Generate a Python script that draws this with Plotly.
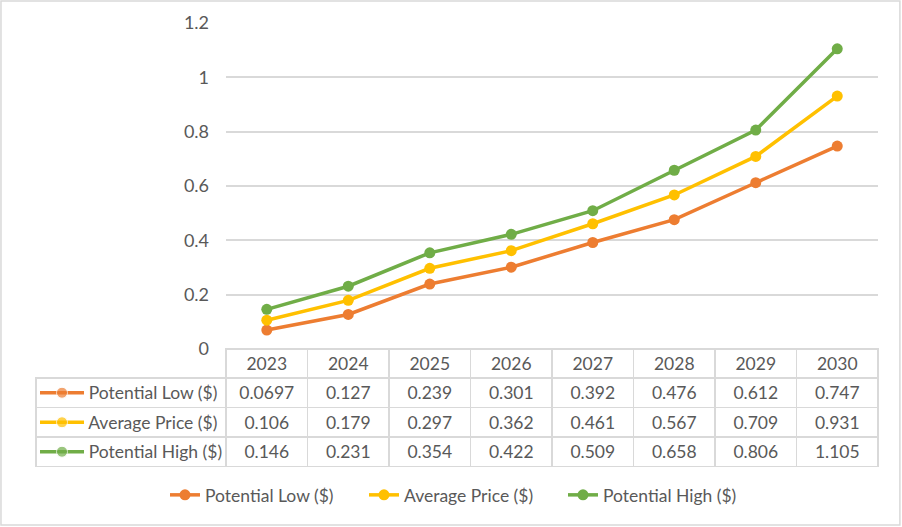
import plotly.graph_objects as go

years = ["2023", "2024", "2025", "2026", "2027", "2028", "2029", "2030"]
low = [0.0697, 0.127, 0.239, 0.301, 0.392, 0.476, 0.612, 0.747]
avg = [0.106, 0.179, 0.297, 0.362, 0.461, 0.567, 0.709, 0.931]
high = [0.146, 0.231, 0.354, 0.422, 0.509, 0.658, 0.806, 1.105]
names = ["Potential Low ($)", "Average Price ($)", "Potential High ($)"]
colors = ["#ED7D31", "#FFC000", "#70AD47"]
series = [low, avg, high]

FONT = "Lato"
TXT = "#595959"
GRID = "#D9D9D9"
NB = "\u00a0"

fig = go.Figure()
for name, col, vals in zip(names, colors, series):
    fig.add_trace(go.Scatter(
        x=years, y=vals, name=name, mode="lines+markers",
        line=dict(color=col, width=3.5), marker=dict(color=col, size=11),
        xaxis="x", yaxis="y",
    ))

# legend keys inside the data table's first column (row index on a hidden axis)
for i, (name, col) in enumerate(zip(names, colors)):
    fig.add_trace(go.Scatter(
        x=[4, 26, 48], y=[i, i, i], mode="lines+markers", showlegend=False,
        hoverinfo="skip", line=dict(color=col, width=3.5),
        marker=dict(color=col, size=[0, 11, 0]),
        xaxis="x2", yaxis="y2",
    ))

# data table
first_col = [NB * 10 + n.replace(" ", NB) for n in names]
year_cols = [[str(s[i]) for s in series] for i in range(len(years))]
fig.add_trace(go.Table(
    domain=dict(x=[0, 1], y=[0, 0.2658]),
    columnwidth=[190] + [81.5] * len(years),
    header=dict(
        values=[""] + years,
        fill_color=["rgba(0,0,0,0)"] + ["white"] * len(years),
        line=dict(color=["rgba(0,0,0,0)"] + [GRID] * len(years), width=1.5),
        font=dict(family=FONT, size=17.5, color=TXT),
        align="center",
        height=29,
    ),
    cells=dict(
        values=[first_col] + year_cols,
        fill_color=["rgba(0,0,0,0)"] + ["white"] * len(years),
        line=dict(color=GRID, width=1.5),
        font=dict(family=FONT, size=17.5, color=TXT),
        align=["left"] + ["center"] * len(years),
        height=29.5,
    ),
))

fig.update_layout(
    width=902, height=527,
    margin=dict(l=36, r=24, t=23, b=60, autoexpand=False),
    paper_bgcolor="white", plot_bgcolor="rgba(0,0,0,0)",
    font=dict(family=FONT, size=17.5, color=TXT),
    showlegend=True,
    legend=dict(orientation="h", x=0.1532, xanchor="left", y=-0.063, yanchor="middle",
                font=dict(family=FONT, size=17.5, color=TXT), itemwidth=30,
                entrywidth=154, entrywidthmode="pixels", tracegroupgap=0),
    xaxis=dict(domain=[0.2257, 1], type="category", range=[-0.5, 7.5],
               showticklabels=False, showgrid=False, zeroline=False, showline=False),
    yaxis=dict(domain=[0.2658, 1], range=[0, 1.2], dtick=0.2, tick0=0,
               showgrid=True, gridcolor=GRID, gridwidth=1.5, zeroline=False,
               showline=False, ticks="", ticklabelstandoff=16,
               tickfont=dict(family=FONT, size=18, color=TXT)),
    xaxis2=dict(domain=[0, 0.2257], range=[0, 190], anchor="y2", visible=False,
                fixedrange=True),
    yaxis2=dict(domain=[0, 0.2658], range=[2.5169, -1.4831], anchor="x2", visible=False,
                fixedrange=True),
    shapes=[dict(type="rect", xref="paper", yref="paper",
                 x0=-0.0416, x1=1.026, y0=-0.1306, y1=1.0495,
                 line=dict(color=GRID, width=1.5), fillcolor="rgba(0,0,0,0)", layer="below")],
)

fig.write_html("out.html", config={"displayModeBar": False},
               post_script="document.body.style.margin='0px';")
